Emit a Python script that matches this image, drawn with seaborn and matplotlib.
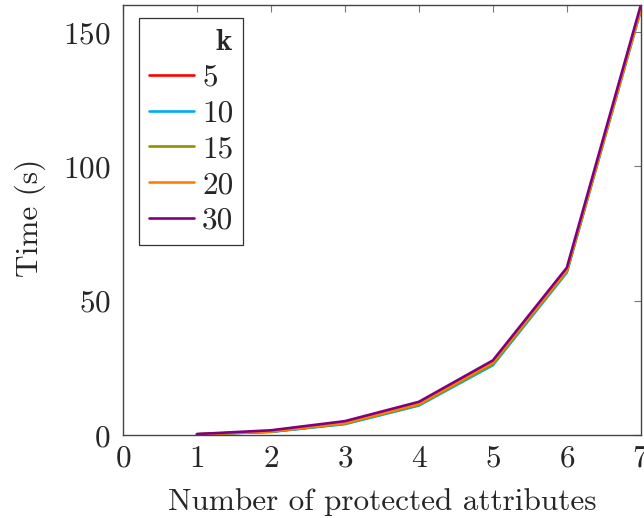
import numpy as np
import pandas as pd
import matplotlib
matplotlib.use("Agg")
import matplotlib.pyplot as plt
import seaborn as sns

attrs = [1, 2, 3, 4, 5, 6, 7]
k_values = ["5", "10", "15", "20", "30"]
time_k5 = [0.3, 1.3, 4.3, 11.3, 26.5, 61.0, 159.0]
time_k10 = [0.3, 1.2, 4.1, 11.0, 26.0, 60.5, 158.0]
time_k15 = [0.3, 1.3, 4.3, 11.3, 26.5, 61.0, 158.5]
time_k20 = [0.3, 1.4, 4.5, 11.6, 27.0, 61.3, 158.5]
time_k30 = [0.4, 1.8, 5.2, 12.4, 27.8, 62.3, 160.0]
colors = ["#FF0000", "#00AEEF", "#948F00", "#FF8000", "#800080"]

series = [time_k5, time_k10, time_k15, time_k20, time_k30]
df = pd.DataFrame({
    "x": attrs * len(k_values),
    "time": sum(series, []),
    "k": sum([[k] * len(attrs) for k in k_values], []),
})

sns.set_style("white")
plt.rcParams["font.family"] = ["cmr10", "DejaVu Serif"]
plt.rcParams["mathtext.fontset"] = "cm"
plt.rcParams["axes.formatter.use_mathtext"] = True

FS = 22.5
fig, ax = plt.subplots(figsize=(6.44, 5.18), dpi=100)
sns.lineplot(data=df, x="x", y="time", hue="k", hue_order=k_values,
             palette=colors, linewidth=1.9, ax=ax)

ax.set_xlim(0, 7)
ax.set_ylim(0, 160)
ax.set_xticks(range(0, 8))
ax.set_yticks([0, 50, 100, 150])
ax.set_xlabel("Number of protected attributes", fontsize=FS, va="baseline")
ax.set_ylabel("Time (s)", fontsize=FS, va="baseline")
ax.xaxis.set_label_coords(0.501, -0.1744)
ax.yaxis.set_label_coords(-0.165, 0.505)
ax.tick_params(axis="both", labelsize=FS, direction="in", length=5,
               color="#777777", top=True, right=True, width=0.8)
ax.tick_params(axis="y", pad=9)
ax.tick_params(axis="x", pad=7)
for s in ax.spines.values():
    s.set_color("#444444")
    s.set_linewidth(1.0)

leg = ax.legend(title=r"$\mathbf{k}$", loc="upper left", fontsize=FS,
                title_fontsize=FS, frameon=True, fancybox=False,
                edgecolor="black", handlelength=1.44, handletextpad=0.26,
                borderpad=0.32, labelspacing=0.25, borderaxespad=0,
                bbox_to_anchor=(0.031, 0.970))
leg.get_frame().set_linewidth(0.9)
leg._legend_box.align = "right"

fig.subplots_adjust(left=0.191, right=0.995, top=0.99, bottom=0.16)
fig.savefig("out.png", dpi=100)
